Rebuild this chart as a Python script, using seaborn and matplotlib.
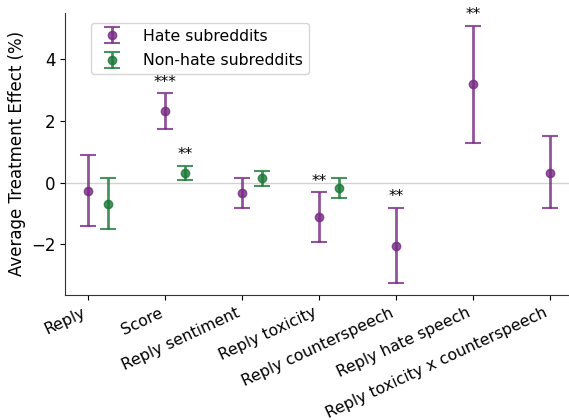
import matplotlib
matplotlib.use('Agg')
import matplotlib.pyplot as plt
import numpy as np
import seaborn as sns

# outcome names
outcomes = ['Reply', 'Score', 'Reply sentiment', 'Reply toxicity',
            'Reply counterspeech', 'Reply hate speech', 'Reply toxicity x counterspeech']

# hate subreddits: estimate, lower, upper
hate_ate = [-0.26, 2.31, -0.34, -1.12, -2.04, 3.18, 0.32]
hate_lo = [-1.40, 1.72, -0.82, -1.91, -3.24, 1.28, -0.84]
hate_hi = [0.88, 2.89, 0.16, -0.32, -0.82, 5.08, 1.50]
hate_sig = ['', '***', '', '**', '**', '**', '']

# non-hate subreddits (only first four outcomes)
nonhate_ate = [-0.68, 0.30, 0.13, -0.17]
nonhate_lo = [-1.50, 0.07, -0.12, -0.49]
nonhate_hi = [0.15, 0.55, 0.36, 0.15]
nonhate_sig = ['', '**', '', '']

sns.set_style('ticks')
plt.rcParams['font.family'] = ['DejaVu Sans']
plt.rcParams['text.color'] = 'black'
plt.rcParams['axes.labelcolor'] = 'black'
plt.rcParams['xtick.color'] = 'black'
plt.rcParams['ytick.color'] = 'black'
plt.rcParams['axes.edgecolor'] = '.2'

purple = '#762a83'
green = '#1b7837'

fig, ax = plt.subplots(figsize=(5.69, 4.2), dpi=100)

x_h = np.arange(len(outcomes))
x_n = np.arange(len(nonhate_ate)) + 0.26

ax.axhline(0, color='lightgray', lw=1, zorder=0)

h = np.array(hate_ate)
yerr_h = [h - np.array(hate_lo), np.array(hate_hi) - h]
ax.errorbar(x_h, h, yerr=yerr_h, fmt='o', color=purple, ecolor=purple, elinewidth=2,
            capsize=6, capthick=1.5, markersize=6, alpha=0.8, label='Hate subreddits')

n = np.array(nonhate_ate)
yerr_n = [n - np.array(nonhate_lo), np.array(nonhate_hi) - n]
ax.errorbar(x_n, n, yerr=yerr_n, fmt='o', color=green, ecolor=green, elinewidth=2,
            capsize=6, capthick=1.5, markersize=6, alpha=0.8, label='Non-hate subreddits')

# significance stars
for xi, top, s in zip(x_h, hate_hi, hate_sig):
    if s:
        ax.text(xi, top + 0.12, s, ha='center', va='bottom', fontsize=11, zorder=6)
for xi, top, s in zip(x_n, nonhate_hi, nonhate_sig):
    if s:
        ax.text(xi, top + 0.12, s, ha='center', va='bottom', fontsize=11, zorder=6)

ax.set_xticks(x_h)
ax.set_xticklabels(outcomes, rotation=25, ha='right', fontsize=11.3)
ax.tick_params(axis='y', labelsize=12)
ax.set_ylabel('Average Treatment Effect (%)', fontsize=12)
ax.set_xlim(-0.3, 6.25)
ax.set_ylim(-3.65, 5.5)
ax.set_yticks([-2, 0, 2, 4])

ax.legend(loc='upper left', bbox_to_anchor=(0.035, 0.99), fontsize=11.3,
          borderpad=0.35, labelspacing=0.6, handletextpad=1.0)
sns.despine(ax=ax)

plt.subplots_adjust(left=0.115, right=1.0, top=0.97, bottom=0.297)
fig.savefig('out.png', dpi=100)
